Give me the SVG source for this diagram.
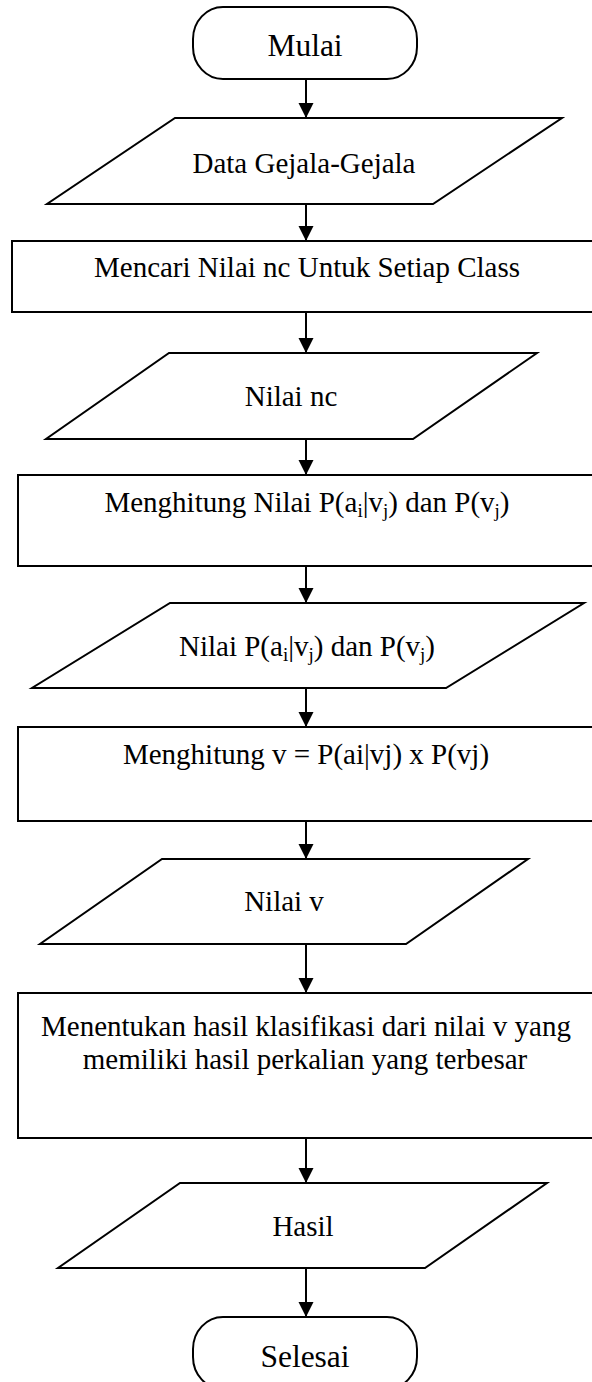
<svg xmlns="http://www.w3.org/2000/svg" width="592" height="1382" viewBox="0 0 592 1382">
<defs>
<marker id="ah" markerUnits="userSpaceOnUse" markerWidth="16" markerHeight="16" refX="15" refY="7.5" orient="auto">
<path d="M0,0 L15,7.5 L0,15 z" fill="#000"/>
</marker>
<style>
.s{fill:#fff;stroke:#000;stroke-width:2}
.t{font-family:"Liberation Serif","Times New Roman",serif;font-size:29px;fill:#000;text-anchor:middle}
.big{font-size:31.5px}
.sub{font-size:19px}
.c{stroke:#000;stroke-width:2;fill:none;marker-end:url(#ah)}
</style>
</defs>
<rect width="592" height="1382" fill="#fff"/>
<g id="connectors">
<line class="c" x1="306" y1="79" x2="306" y2="118"/>
<line class="c" x1="306" y1="204" x2="306" y2="241"/>
<line class="c" x1="306" y1="312" x2="306" y2="353"/>
<line class="c" x1="306" y1="439" x2="306" y2="475"/>
<line class="c" x1="306" y1="566" x2="306" y2="603"/>
<line class="c" x1="306" y1="688" x2="306" y2="727"/>
<line class="c" x1="306" y1="821" x2="306" y2="859"/>
<line class="c" x1="306" y1="944" x2="306" y2="993"/>
<line class="c" x1="306" y1="1138" x2="306" y2="1183"/>
<line class="c" x1="306" y1="1268" x2="306" y2="1317"/>
</g>
<g id="mulai">
<rect class="s" x="193" y="7" width="224" height="72" rx="30" ry="32"/>
<text class="t big" x="305" y="56">Mulai</text>
</g>
<g id="data">
<polygon class="s" points="175,118 562,118 433,204 47,204"/>
<text class="t" x="304" y="173">Data Gejala-Gejala</text>
</g>
<g id="mencari">
<rect class="s" x="12" y="241" width="600" height="71"/>
<text class="t" x="307" y="277">Mencari Nilai nc Untuk Setiap Class</text>
</g>
<g id="nilainc">
<polygon class="s" points="169,353 537,353 413,439 46,439"/>
<text class="t" x="291" y="406">Nilai nc</text>
</g>
<g id="menghitung1">
<rect class="s" x="18" y="475" width="600" height="91"/>
<text class="t" x="307" y="512">Menghitung Nilai P(a<tspan class="sub" dy="5">i</tspan><tspan dy="-5">|v</tspan><tspan class="sub" dy="5">j</tspan><tspan dy="-5">) dan P(v</tspan><tspan class="sub" dy="5">j</tspan><tspan dy="-5">)</tspan></text>
</g>
<g id="nilaip">
<polygon class="s" points="170,603 584,603 446,688 32,688"/>
<text class="t" x="307" y="656">Nilai P(a<tspan class="sub" dy="5">i</tspan><tspan dy="-5">|v</tspan><tspan class="sub" dy="5">j</tspan><tspan dy="-5">) dan P(v</tspan><tspan class="sub" dy="5">j</tspan><tspan dy="-5">)</tspan></text>
</g>
<g id="menghitung2">
<rect class="s" x="18" y="727" width="600" height="94"/>
<text class="t" x="306" y="764">Menghitung v = P(ai|vj) x P(vj)</text>
</g>
<g id="nilaiv">
<polygon class="s" points="162,859 528,859 406,944 40,944"/>
<text class="t" x="284" y="911">Nilai v</text>
</g>
<g id="menentukan">
<rect class="s" x="18" y="993" width="600" height="145"/>
<text class="t" x="306" y="1036">Menentukan hasil klasifikasi dari nilai v yang</text>
<text class="t" x="305" y="1069">memiliki hasil perkalian yang terbesar</text>
</g>
<g id="hasil">
<polygon class="s" points="180,1183 547,1183 425,1268 58,1268"/>
<text class="t" x="303" y="1236">Hasil</text>
</g>
<g id="selesai">
<rect class="s" x="193" y="1317" width="224" height="72" rx="30" ry="32"/>
<text class="t big" x="305" y="1367">Selesai</text>
</g>
</svg>
